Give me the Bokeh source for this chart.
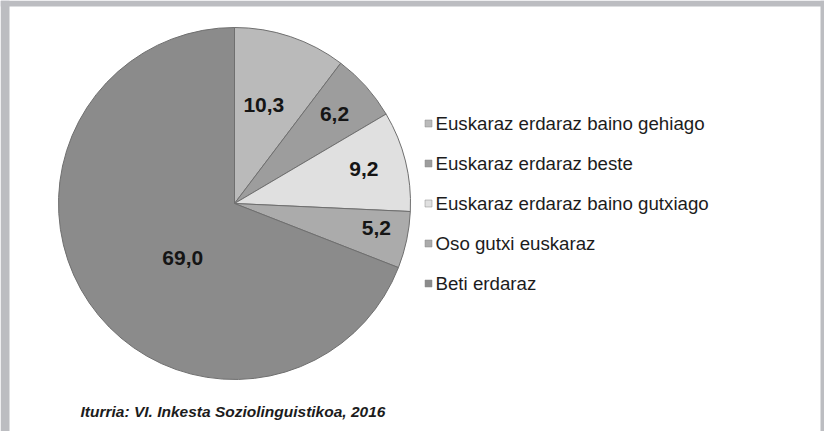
import math
from bokeh.plotting import figure
from bokeh.models import Range1d, ColumnDataSource
from bokeh.core.properties import value
from bokeh.embed import file_html
from bokeh.resources import INLINE

# ---- data ----
categories = [
    "Euskaraz erdaraz baino gehiago",
    "Euskaraz erdaraz beste",
    "Euskaraz erdaraz baino gutxiago",
    "Oso gutxi euskaraz",
    "Beti erdaraz",
]
values = [10.3, 6.2, 9.2, 5.2, 69.0]
value_labels = ["10,3", "6,2", "9,2", "5,2", "69,0"]
source_note = "Iturria: VI. Inkesta Soziolinguistikoa, 2016"

# ---- styles ----
colors = ["#bababa", "#9d9d9d", "#e0e0e0", "#ababab", "#8b8b8b"]
label_r = [103, 134, 134, 144, 75]
label_da = [2, 0, 1, 2, 12]

W, H = 824, 431
def py(page_y):
    return 447 - page_y

p = figure(width=W, height=H, x_range=Range1d(8, 832), y_range=Range1d(8, 439),
           x_axis_type=None, y_axis_type=None, toolbar_location=None,
           output_backend="svg", min_border=0)
p.grid.visible = False
p.outline_line_color = None
p.background_fill_color = "white"
p.border_fill_color = "white"

# frame
border = "#bcbdc1"
p.quad(left=[8, 8, 828], right=[832, 17, 832], bottom=[py(14), 8, 8], top=[439, 439, 439],
       fill_color=border, line_color=None)

# pie
cx, cy, R = 242, py(211), 176
total = sum(values)
starts, ends, mids = [], [], []
acc = 0.0
for v in values:
    a0 = math.pi / 2 - acc / total * 2 * math.pi
    acc += v
    a1 = math.pi / 2 - acc / total * 2 * math.pi
    starts.append(a0)
    ends.append(a1)
    mids.append((a0 + a1) / 2)

src = ColumnDataSource(dict(start=starts, end=ends, color=colors))
p.wedge(x=cx, y=cy, radius=R, start_angle="start", end_angle="end", direction="clock",
        fill_color="color", line_color="#6f6f6f", line_width=1, source=src)

lx = [cx + r * math.cos(m + math.radians(d)) for r, m, d in zip(label_r, mids, label_da)]
ly = [cy + r * math.sin(m + math.radians(d)) for r, m, d in zip(label_r, mids, label_da)]
p.text(x=lx, y=ly, text=value_labels, text_font=value("Liberation Sans"),
       text_font_style="bold", text_font_size="21px", text_color="#151515",
       text_align="center", text_baseline="middle")

# legend
rows = [py(131 + 40 * i) for i in range(len(categories))]
p.rect(x=[436] * len(rows), y=rows, width=7, height=7, fill_color=colors,
       line_color="#8a8a8a", line_width=0.5)
p.text(x=[443] * len(rows), y=rows, text=categories, text_font=value("Liberation Sans"),
       text_font_size="18.7px", text_color="#1c1c1c", text_align="left",
       text_baseline="middle")

# source note
p.text(x=[88], y=[py(419)], text=[source_note], text_font=value("Liberation Sans"),
       text_font_style="bold italic", text_font_size="15.5px", text_color="#1c1c1c",
       text_align="left", text_baseline="middle")

open("out.html", "w").write(file_html(p, INLINE))
